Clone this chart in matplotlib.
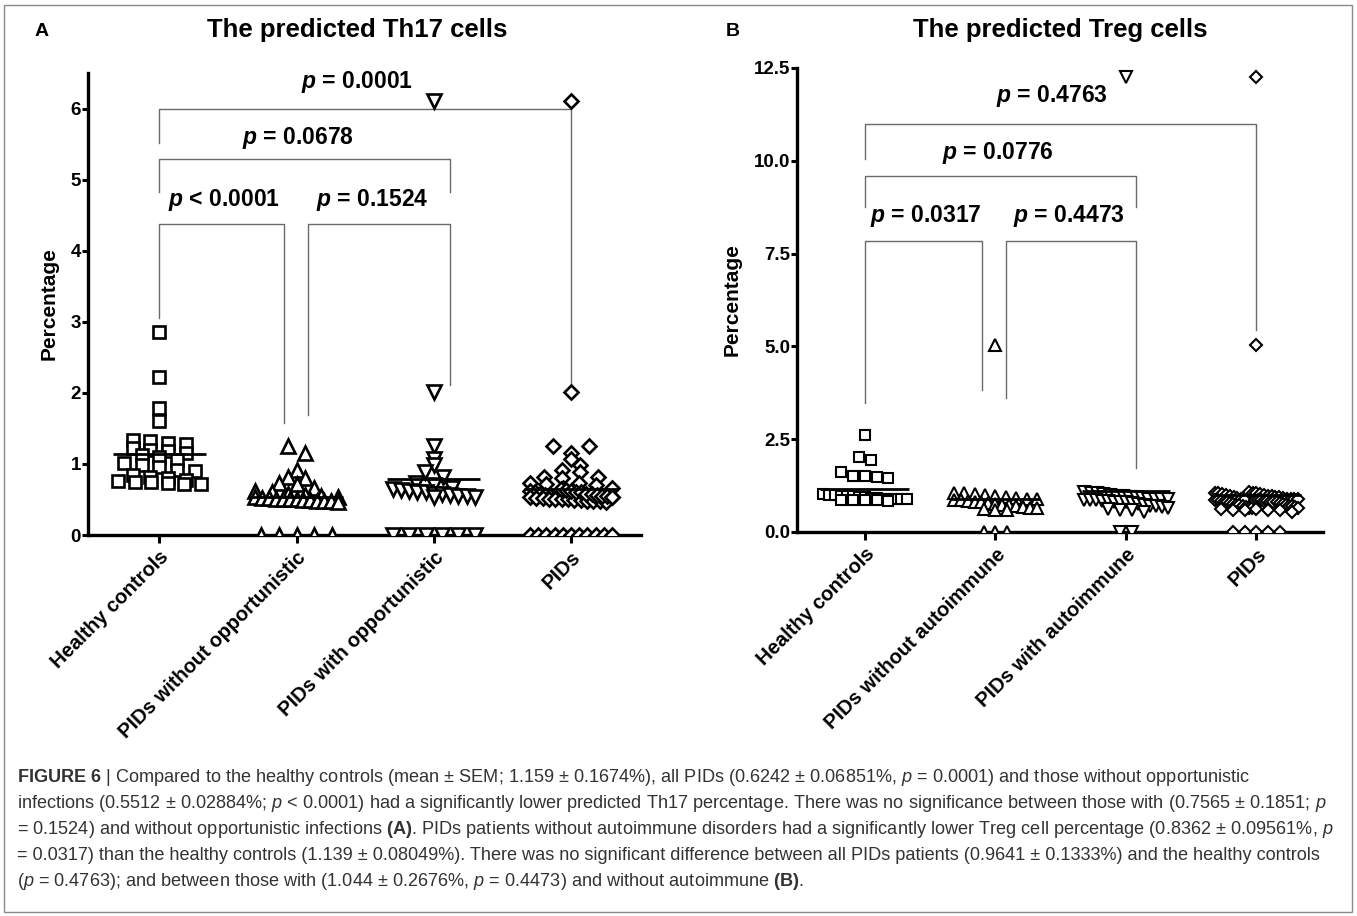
import numpy as np
import matplotlib
matplotlib.use("Agg")
import matplotlib.pyplot as plt
from matplotlib.patches import Rectangle

plt.rcParams['font.family'] = ['Liberation Sans', 'DejaVu Sans']
plt.rcParams['mathtext.fontset'] = 'custom'
plt.rcParams['mathtext.rm'] = 'Liberation Sans'
plt.rcParams['mathtext.it'] = 'Liberation Sans:italic'
plt.rcParams['mathtext.bf'] = 'Liberation Sans:bold'
plt.rcParams['mathtext.bfit'] = 'Liberation Sans:italic:bold'

# ---- data ----
th17_groups = ["Healthy controls", "PIDs without opportunistic", "PIDs with opportunistic", "PIDs"]
treg_groups = ["Healthy controls", "PIDs without autoimmune", "PIDs with autoimmune", "PIDs"]

th17_hc = [2.85, 2.22, 1.78, 1.60, 1.33, 1.32, 1.30, 1.28, 1.22, 1.20, 1.18, 1.15, 1.12, 1.10, 1.05,
           1.02, 0.98, 0.95, 0.92, 0.90, 0.85, 0.82, 0.80, 0.78, 0.76, 0.75, 0.74, 0.73, 0.72, 0.72]
th17_without = [1.25, 1.15, 0.92, 0.82, 0.80, 0.73, 0.72, 0.66, 0.62, 0.60, 0.58, 0.56, 0.55, 0.54,
                0.53, 0.52, 0.52, 0.51, 0.50, 0.50, 0.50, 0.49, 0.49, 0.48, 0.48, 0.48, 0.47,
                0, 0, 0, 0, 0]
th17_with = [6.10, 2.01, 1.25, 1.07, 0.98, 0.89, 0.82, 0.73, 0.70, 0.66, 0.65, 0.64, 0.62, 0.61,
             0.60, 0.58, 0.57, 0.56, 0.55, 0.55, 0.54, 0.53, 0, 0, 0, 0, 0, 0]
th17_pids = th17_without + th17_with

treg_hc = [2.61, 2.02, 1.93, 1.62, 1.52, 1.50, 1.48, 1.45, 1.02, 1.00, 1.00, 0.98, 0.97, 0.96,
           0.95, 0.93, 0.92, 0.92, 0.90, 0.90, 0.90, 0.88, 0.88, 0.87, 0.86, 0.86, 0.85, 0.84]
treg_without = [5.05, 1.05, 1.04, 1.02, 1.00, 0.98, 0.95, 0.92, 0.90, 0.88, 0.86, 0.85, 0.84, 0.82,
                0.80, 0.78, 0.76, 0.74, 0.72, 0.70, 0.68, 0.66, 0.64, 0.62, 0.60, 0.58, 0, 0, 0]
treg_with = [12.25, 1.08, 1.06, 1.05, 1.03, 1.00, 0.98, 0.96, 0.95, 0.93, 0.92, 0.90, 0.90, 0.88,
             0.88, 0.86, 0.86, 0.85, 0.84, 0.83, 0.82, 0.80, 0.80, 0.78, 0.75, 0.72, 0.70, 0.70,
             0.68, 0.65, 0.62, 0.60, 0.58, 0.55, 0, 0]
treg_pids = treg_without + treg_with

# comparison brackets: x_left, x_right, top, left leg end, right leg end, label, label x, label y
th17_brackets = [
    (0.0, 0.91, 4.37, 3.06, 1.58, r"$\mathbfit{p}$ < 0.0001", 0.47, 4.72),
    (1.08, 2.12, 4.37, 1.69, 2.11, r"$\mathbfit{p}$ = 0.1524", 1.55, 4.72),
    (0.0, 2.12, 5.29, 4.83, 4.83, r"$\mathbfit{p}$ = 0.0678", 1.01, 5.59),
    (0.0, 3.0, 6.0, 5.52, 2.11, r"$\mathbfit{p}$ = 0.0001", 1.44, 6.38),
]
treg_brackets = [
    (0.0, 0.9, 7.85, 3.48, 3.83, r"$\mathbfit{p}$ = 0.0317", 0.47, 8.5),
    (1.08, 2.08, 7.85, 3.6, 1.72, r"$\mathbfit{p}$ = 0.4473", 1.56, 8.5),
    (0.0, 2.08, 9.6, 8.75, 8.75, r"$\mathbfit{p}$ = 0.0776", 1.02, 10.2),
    (0.0, 3.0, 11.0, 10.05, 5.44, r"$\mathbfit{p}$ = 0.4763", 1.43, 11.75),
]

caption_lines = [
    r"$\mathbf{FIGURE\ 6}$ | Compared to the healthy controls (mean ± SEM; 1.159 ± 0.1674%), all PIDs (0.6242 ± 0.06851%, $\mathit{p}$ = 0.0001) and those without opportunistic",
    r"infections (0.5512 ± 0.02884%; $\mathit{p}$ < 0.0001) had a significantly lower predicted Th17 percentage. There was no significance between those with (0.7565 ± 0.1851; $\mathit{p}$",
    r"= 0.1524) and without opportunistic infections $\mathbf{(A)}$. PIDs patients without autoimmune disorders had a significantly lower Treg cell percentage (0.8362 ± 0.09561%, $\mathit{p}$",
    r"= 0.0317) than the healthy controls (1.139 ± 0.08049%). There was no significant difference between all PIDs patients (0.9641 ± 0.1333%) and the healthy controls",
    r"($\mathit{p}$ = 0.4763); and between those with (1.044 ± 0.2676%, $\mathit{p}$ = 0.4473) and without autoimmune $\mathbf{(B)}$.",
]


def swarm_x(values, pos, bin_h, step, half):
    # spread points that share a value band sideways around the group position
    v = np.asarray(values, float)
    bins = np.round(v / bin_h).astype(int)
    xs = np.full(len(v), float(pos))
    for b in np.unique(bins):
        idx = np.where(bins == b)[0]
        n = len(idx)
        if n > 1:
            w = min((n - 1) * step / 2, half)
            xs[idx] = pos + np.linspace(-w, w, n)
    return xs


def draw_panel(ax, groups, data, markers, sizes, mew, bin_h, step, half, brackets, ylim, yticks, fmt):
    for i, (vals, m, ms) in enumerate(zip(data, markers, sizes)):
        xs = swarm_x(vals, i, bin_h, step, half)
        ax.plot(xs, vals, linestyle='none', marker=m, markersize=ms, markerfacecolor='white',
                markeredgecolor='black', markeredgewidth=mew, zorder=3)
        ax.hlines(np.mean(vals), i - 0.34, i + 0.34, color='black', lw=2, zorder=4)

    for x1, x2, top, e1, e2, label, tx, ty in brackets:
        ax.plot([x1, x1, x2, x2], [e1, top, top, e2], color='#6a6a6a', lw=1.0, zorder=2,
                clip_on=False)
        ax.text(tx, ty, label, ha='center', va='center', fontsize=16.5, fontweight='bold')

    ax.set_xlim(-0.52, 3.51)
    ax.set_ylim(*ylim)
    ax.set_yticks(yticks)
    ax.set_yticklabels([fmt.format(t) for t in yticks], fontsize=13.5, fontweight='bold')
    ax.set_xticks(range(len(groups)))
    ax.set_xticklabels(groups, rotation=45, ha='right', rotation_mode='anchor',
                       fontsize=14.5, fontweight='bold')
    ax.set_ylabel("Percentage", fontsize=15, fontweight='bold', labelpad=9)
    for s in ['top', 'right']:
        ax.spines[s].set_visible(False)
    for s in ['left', 'bottom']:
        ax.spines[s].set_linewidth(2.4)
    ax.tick_params(axis='y', direction='out', length=4, width=2.2, pad=1)
    ax.tick_params(axis='x', direction='out', length=6, width=2.2, pad=3)


fig = plt.figure(figsize=(13.57, 9.16), dpi=100)
W, H = 1357, 916

ax1 = fig.add_axes([88 / W, 1 - 535 / H, (641 - 88) / W, (535 - 73) / H])
draw_panel(ax1, th17_groups, [th17_hc, th17_without, th17_with, th17_pids],
           ['s', '^', 'v', 'D'], [9, 10.5, 10.5, 7.5], 1.9, 0.12, 0.13, 0.3,
           th17_brackets, (0, 6.5), [0, 1, 2, 3, 4, 5, 6], "{:g}")

ax2 = fig.add_axes([797 / W, 1 - 532 / H, (1323 - 797) / W, (532 - 68) / H])
draw_panel(ax2, treg_groups, [treg_hc, treg_without, treg_with, treg_pids],
           ['s', '^', 'v', 'D'], [7.5, 9, 9, 6.5], 1.5, 0.25, 0.09, 0.32,
           treg_brackets, (0, 12.5), [0, 2.5, 5.0, 7.5, 10.0, 12.5], "{:.1f}")

fig.text(357 / W, 1 - 30 / H, "The predicted Th17 cells", ha='center', va='center',
         fontsize=18.5, fontweight='bold')
fig.text(1060 / W, 1 - 30 / H, "The predicted Treg cells", ha='center', va='center',
         fontsize=18.5, fontweight='bold')
fig.text(42 / W, 1 - 32 / H, "A", ha='center', va='center', fontsize=14, fontweight='bold')
fig.text(733 / W, 1 - 32 / H, "B", ha='center', va='center', fontsize=14, fontweight='bold')

for k, line in enumerate(caption_lines):
    fig.text(17 / W, 1 - (777 + 26 * k) / H, line, ha='left', va='center',
             fontsize=13.1, color='#333333')

fig.patches.append(Rectangle((4 / W, 4 / H), (1352 - 4) / W, (911 - 4) / H,
                             transform=fig.transFigure, fill=False,
                             edgecolor='#8a8a8a', lw=1.0))

fig.savefig("out.png", dpi=100)
